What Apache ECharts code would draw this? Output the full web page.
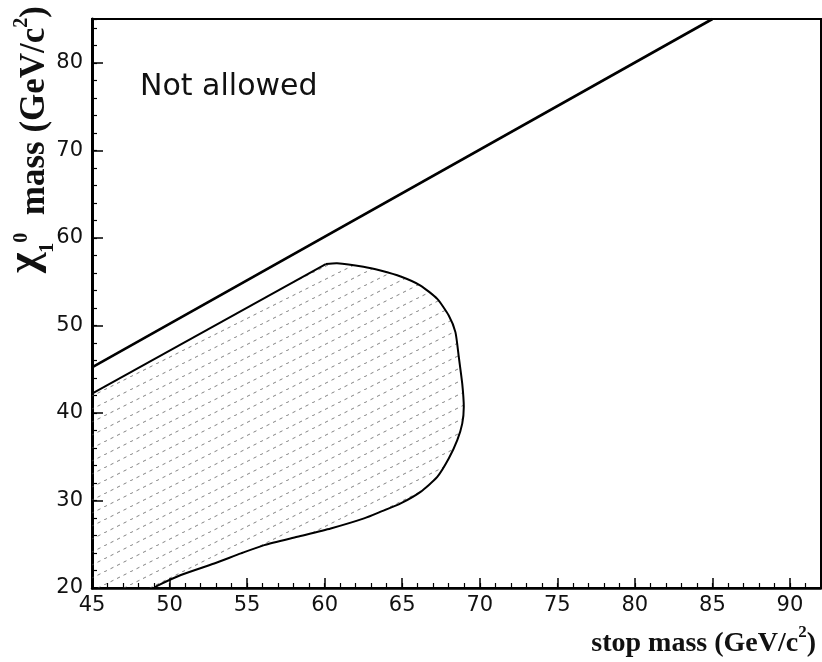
<!DOCTYPE html>
<html>
<head>
<meta charset="utf-8">
<script src="https://cdn.jsdelivr.net/npm/echarts@6/dist/echarts.min.js"></script>
<style>
  html, body { margin: 0; padding: 0; background: #fff; }
  #chart { width: 822px; height: 662px; }
</style>
</head>
<body>
<div id="chart"></div>
<script>
// Axis ranges and tick steps (GeV/c^2)
const xRange = [45, 92];
const yRange = [20, 85];
const xMajorStep = 5, xMinorStep = 1;
const yMajorStep = 10, yMinorStep = 2;

// Kinematic limit: neutralino mass = stop mass
const kinematicLimit = [[45, 45.2], [85, 85]];

// Straight upper-left edge of the excluded (hatched) region
const excludedTopEdge = [[45, 42.2], [60.07, 57.0]];
// Curved edge, from the top of the region round to the bottom axis
const excludedCurve = [
  [60.07, 57.0], [60.8, 57.1], [62.5, 56.7], [63.6, 56.26],
  [64.9, 55.58], [66.18, 54.55], [67.26, 53.03], [68.0, 51.13], [68.43, 49.23],
  [68.65, 46.37], [68.87, 43.34], [68.97, 40.67], [68.87, 38.78], [68.55, 36.88],
  [68.0, 34.79], [67.26, 32.69], [66.18, 30.98], [64.9, 29.66], [63.7, 28.78],
  [62.54, 27.95], [60.39, 26.8], [58.24, 25.85], [56.1, 24.9], [54.6, 23.95],
  [52.88, 22.8], [50.73, 21.48], [49.23, 20.27], [49.0, 20]
];
// Corner of the plot that closes the region along the axes
const excludedCorner = [45, 20];

// Diagonal dashed hatching used to fill the excluded region
function makeHatch() {
  const c = document.createElement('canvas');
  c.width = 26; c.height = 13;
  const g = c.getContext('2d');
  g.strokeStyle = 'rgba(80,80,80,0.7)';
  g.lineWidth = 1;
  g.setLineDash([3.3, 3.97]);
  g.beginPath();
  g.moveTo(0, 13);
  g.lineTo(26, 0);
  g.stroke();
  return c;
}
const hatch = makeHatch();

const tickFont = 'DejaVu Sans';
const titleFont = '"Liberation Serif", "Times New Roman", serif';

const chart = echarts.init(document.getElementById('chart'), null, { renderer: 'canvas' });

chart.setOption({
  animation: false,
  backgroundColor: '#fff',
  grid: {
    left: 92, right: 1, top: 19, bottom: 74,
    show: true, borderColor: '#000', borderWidth: 2, backgroundColor: 'transparent'
  },
  xAxis: [
    {
      type: 'value', min: xRange[0], max: xRange[1], interval: xMajorStep, position: 'bottom',
      axisLine: { show: true, onZero: false, lineStyle: { color: '#000', width: 2.5 } },
      axisTick: { show: true, inside: true, length: 10, lineStyle: { color: '#000', width: 1.5 } },
      axisLabel: { margin: 7, color: '#111', fontSize: 21, fontFamily: tickFont, showMaxLabel: false },
      splitLine: { show: false }
    },
    {
      type: 'value', min: xRange[0], max: xRange[1], interval: xMinorStep, position: 'bottom',
      axisLine: { show: false, onZero: false },
      axisTick: { show: true, inside: true, length: 5, lineStyle: { color: '#000', width: 1.2 } },
      axisLabel: { show: false },
      splitLine: { show: false }
    }
  ],
  yAxis: [
    {
      type: 'value', min: yRange[0], max: yRange[1], interval: yMajorStep, position: 'left',
      axisLine: { show: true, onZero: false, lineStyle: { color: '#000', width: 3 } },
      axisTick: { show: true, inside: true, length: 11, lineStyle: { color: '#000', width: 1.5 } },
      axisLabel: { margin: 9, color: '#111', fontSize: 21, fontFamily: tickFont, showMaxLabel: false },
      splitLine: { show: false }
    },
    {
      type: 'value', min: yRange[0], max: yRange[1], interval: yMinorStep, position: 'left',
      axisLine: { show: false, onZero: false },
      axisTick: { show: true, inside: true, length: 5, lineStyle: { color: '#000', width: 1.2 } },
      axisLabel: { show: false },
      splitLine: { show: false }
    }
  ],
  series: [
    {
      type: 'custom',
      xAxisIndex: 0, yAxisIndex: 0,
      clip: true,
      silent: true,
      data: [excludedCorner],
      renderItem: function (params, api) {
        const top = excludedTopEdge.map(p => api.coord(p));
        const curve = excludedCurve.map(p => api.coord(p));
        const poly = [api.coord(excludedCorner)].concat(top, curve.slice(1));
        return {
          type: 'group',
          children: [
            { type: 'polygon', shape: { points: poly, smooth: 0 },
              style: { fill: { image: hatch, repeat: 'repeat' }, stroke: null } },
            { type: 'polyline', shape: { points: top },
              style: { stroke: '#000', lineWidth: 2, fill: null } },
            { type: 'polyline', shape: { points: curve, smooth: 0.2 },
              style: { stroke: '#000', lineWidth: 2, fill: null, lineJoin: 'round' } }
          ]
        };
      }
    },
    {
      type: 'line',
      xAxisIndex: 0, yAxisIndex: 0,
      data: kinematicLimit,
      symbol: 'none',
      lineStyle: { color: '#000', width: 2.6 },
      clip: true,
      silent: true
    }
  ],
  graphic: [
    {
      type: 'text', x: 140, y: 87,
      style: { text: 'Not allowed', font: '30px "DejaVu Sans"', fill: '#111', textVerticalAlign: 'middle' }
    },
    {
      type: 'text', x: 816, y: 641,
      style: {
        text: '{b|stop mass (GeV/c}{sup|2}{b|)}',
        textAlign: 'right', textVerticalAlign: 'middle',
        rich: {
          b: { fontFamily: titleFont, fontWeight: 'bold', fontSize: 28, fill: '#111', lineHeight: 34, verticalAlign: 'bottom' },
          sup: { fontFamily: titleFont, fontWeight: 'bold', fontSize: 17, fill: '#111', lineHeight: 34, verticalAlign: 'top' }
        }
      }
    },
    {
      type: 'text', x: 32, y: 6, rotation: Math.PI / 2,
      style: {
        text: '{chi|χ}{sub|1}{sup|0}{b|  mass (GeV/c}{sup|2}{b|)}',
        textAlign: 'right', textVerticalAlign: 'middle',
        rich: {
          chi: { fontFamily: titleFont, fontWeight: 'bold', fontSize: 44, fill: '#111', lineHeight: 40, verticalAlign: 'bottom', padding: [0, 0, 4, 0] },
          b: { fontFamily: titleFont, fontWeight: 'bold', fontSize: 35, fill: '#111', lineHeight: 40, verticalAlign: 'bottom' },
          sup: { fontFamily: titleFont, fontWeight: 'bold', fontSize: 20, fill: '#111', lineHeight: 40, verticalAlign: 'top' },
          sub: { fontFamily: titleFont, fontWeight: 'bold', fontSize: 20, fill: '#111', lineHeight: 40, verticalAlign: 'bottom', padding: [0, 0, -6, 0] }
        }
      }
    }
  ]
});
</script>
</body>
</html>
